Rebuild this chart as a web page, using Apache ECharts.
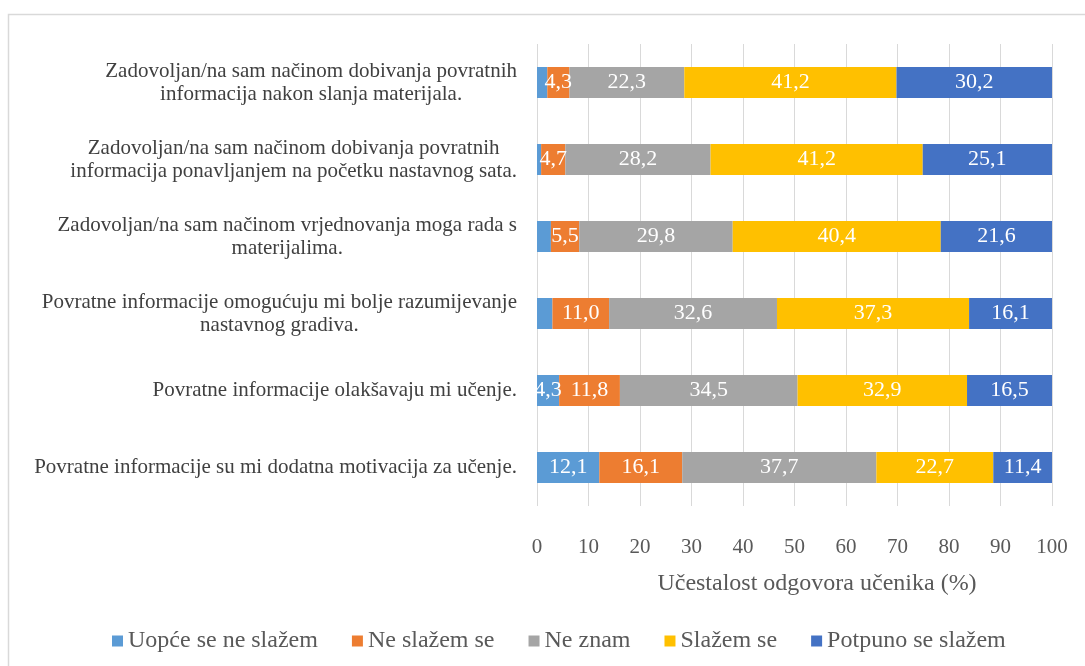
<!DOCTYPE html>
<html>
<head>
<meta charset="utf-8">
<script src="https://cdn.jsdelivr.net/npm/echarts@6/dist/echarts.min.js"></script>
<style>
  html, body { margin: 0; padding: 0; background: #ffffff; }
  #chart { width: 1085px; height: 666px; }
</style>
</head>
<body>
<div id="chart"></div>
<script>
// Statements shown top to bottom
const categories = [
  'Zadovoljan/na sam načinom dobivanja povratnih\ninformacija nakon slanja materijala.',
  'Zadovoljan/na sam načinom dobivanja povratnih\ninformacija ponavljanjem na početku nastavnog sata.',
  'Zadovoljan/na sam načinom vrjednovanja moga rada s\nmaterijalima.',
  'Povratne informacije omogućuju mi bolje razumijevanje\nnastavnog gradiva.',
  'Povratne informacije olakšavaju mi učenje.',
  'Povratne informacije su mi dodatna motivacija za učenje.'
];

const seriesNames = ['Uopće se ne slažem', 'Ne slažem se', 'Ne znam', 'Slažem se', 'Potpuno se slažem'];

// Response shares (%) per statement
const uopce   = [2.0, 0.8, 2.7, 3.0, 4.3, 12.1];
const neSlaz  = [4.3, 4.7, 5.5, 11.0, 11.8, 16.1];
const neZnam  = [22.3, 28.2, 29.8, 32.6, 34.5, 37.7];
const slazem  = [41.2, 41.2, 40.4, 37.3, 32.9, 22.7];
const potpuno = [30.2, 25.1, 21.6, 16.1, 16.5, 11.4];

// Which "Uopće se ne slažem" segments carry a value label
const uopceLabelled = [false, false, false, false, true, true];

const xTicks = [0, 10, 20, 30, 40, 50, 60, 70, 80, 90, 100];

const colors = ['#5B9BD5', '#ED7D31', '#A5A5A5', '#FFC000', '#4472C4'];
const FONT = '"Liberation Serif", "Times New Roman", serif';

const fmt = v => v.toFixed(1).replace('.', ',');

function makeSeries(name, values, color, labelled) {
  return {
    name: name,
    type: 'bar',
    stack: 'total',
    barWidth: 31,
    itemStyle: { color: color },
    label: {
      show: true,
      position: 'inside',
      color: '#ffffff',
      fontFamily: FONT,
      fontSize: 22,
      formatter: p => fmt(p.value)
    },
    emphasis: { disabled: true },
    data: values.map((v, i) => labelled && !labelled[i]
      ? { value: v, label: { show: false } }
      : v)
  };
}

const chart = echarts.init(document.getElementById('chart'), null, { renderer: 'canvas' });

chart.setOption({
  backgroundColor: '#ffffff',
  animation: false,
  grid: { left: 537, right: 33, top: 44, bottom: 160, containLabel: false },
  xAxis: {
    type: 'value',
    min: 0,
    max: 100,
    interval: 10,
    axisLine: { show: false },
    axisTick: { show: false },
    splitLine: { show: true, lineStyle: { color: '#d9d9d9', width: 1 } },
    axisLabel: {
      margin: 31,
      fontFamily: FONT,
      fontSize: 21,
      color: '#595959',
      formatter: v => xTicks.includes(v) ? String(v) : ''
    }
  },
  yAxis: {
    type: 'category',
    inverse: true,
    data: categories,
    axisLine: { show: false },
    axisTick: { show: false },
    axisLabel: {
      margin: 20,
      align: 'right',
      fontFamily: FONT,
      fontSize: 21,
      color: '#404040',
      lineHeight: 23,
      formatter: v => v.split('\n').map(l => '{c|' + l + '}').join('\n'),
      rich: {
        c: { align: 'center', fontFamily: FONT, fontSize: 21, color: '#404040', lineHeight: 23 }
      }
    }
  },
  legend: {
    left: 107,
    top: 624,
    icon: 'rect',
    itemWidth: 11,
    itemHeight: 11,
    itemGap: 34,
    selectedMode: false,
    textStyle: { fontFamily: FONT, fontSize: 24, color: '#595959' },
    data: seriesNames
  },
  graphic: [
    {
      type: 'rect',
      silent: true,
      shape: { x: 8.5, y: 14.5, width: 1100, height: 700 },
      style: { fill: 'none', stroke: '#d9d9d9', lineWidth: 1.5 }
    },
    {
      type: 'text',
      silent: true,
      x: 817,
      y: 584,
      style: {
        text: 'Učestalost odgovora učenika (%)',
        fontFamily: FONT,
        fontSize: 24,
        fill: '#595959',
        align: 'center',
        verticalAlign: 'middle'
      }
    }
  ],
  series: [
    makeSeries(seriesNames[0], uopce, colors[0], uopceLabelled),
    makeSeries(seriesNames[1], neSlaz, colors[1]),
    makeSeries(seriesNames[2], neZnam, colors[2]),
    makeSeries(seriesNames[3], slazem, colors[3]),
    makeSeries(seriesNames[4], potpuno, colors[4])
  ]
});
</script>
</body>
</html>
